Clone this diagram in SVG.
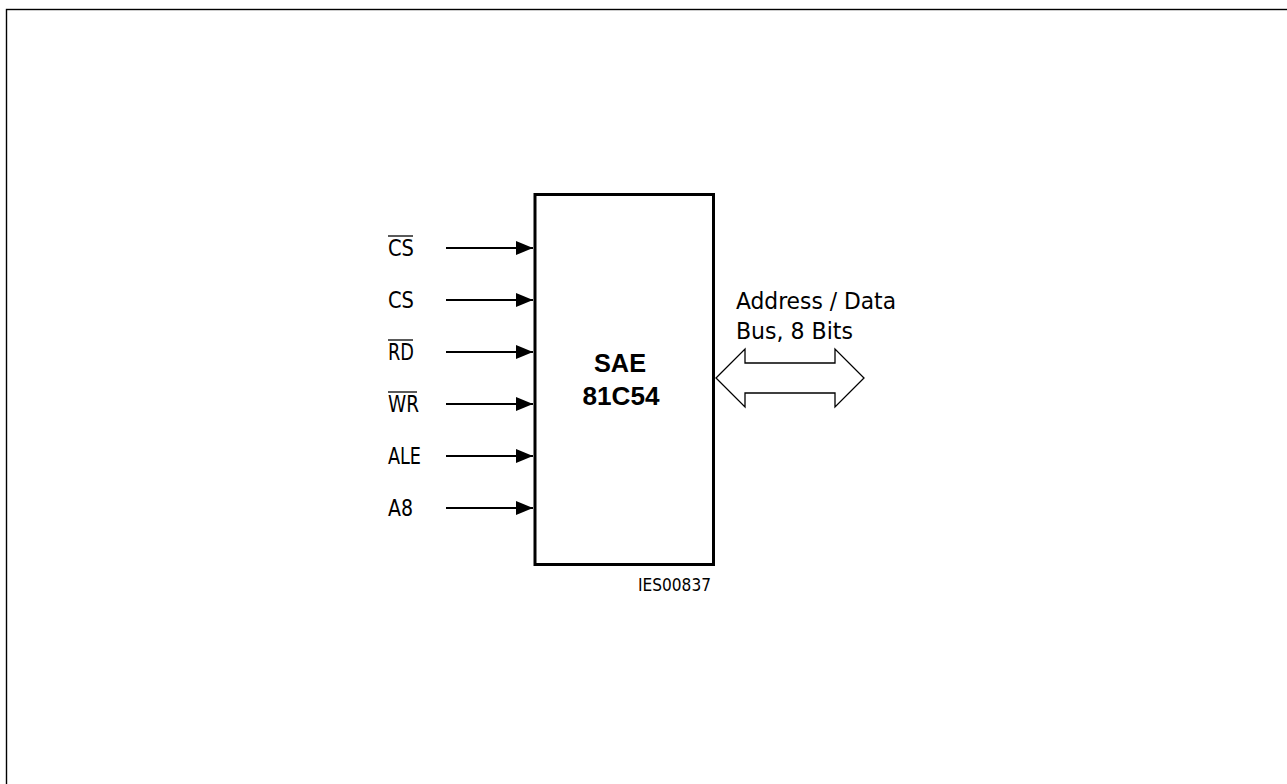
<svg xmlns="http://www.w3.org/2000/svg" width="1287" height="784" viewBox="0 0 1287 784">
<style>
.lbl{font-family:"DejaVu Sans Condensed","Liberation Sans Narrow","Liberation Sans",sans-serif;font-size:23px;fill:#000}
.title{font-family:"Liberation Sans",Arial,sans-serif;font-size:25px;font-weight:bold;fill:#000}
.wire{stroke:#000;stroke-width:1.8;fill:none}
.bar{stroke:#000;stroke-width:1.3}
</style>
<defs>
<marker id="ah" markerUnits="userSpaceOnUse" markerWidth="17" markerHeight="14" refX="17" refY="7" orient="auto">
<path d="M0,0 L17,7 L0,14 Z" fill="#000"/>
</marker>
</defs>
<rect width="1287" height="784" fill="#fff"/>
<rect x="6.5" y="9.5" width="1300" height="800" fill="none" stroke="#000" stroke-width="1.4"/>
<g id="chip">
<rect x="535" y="194.5" width="178.5" height="370" fill="#fff" stroke="#000" stroke-width="3"/>
<text class="title" x="620" y="372" text-anchor="middle" textLength="52" lengthAdjust="spacingAndGlyphs">SAE</text>
<text class="title" x="621" y="405" text-anchor="middle" textLength="77" lengthAdjust="spacingAndGlyphs">81C54</text>
</g>
<g id="labels">
<g id="cs-n"><text class="lbl" x="388" y="256" textLength="26" lengthAdjust="spacingAndGlyphs">CS</text><line class="bar" x1="388" y1="236" x2="413" y2="236"/></g>
<g id="cs"><text class="lbl" x="388" y="308" textLength="26" lengthAdjust="spacingAndGlyphs">CS</text></g>
<g id="rd-n"><text class="lbl" x="388" y="360" textLength="26" lengthAdjust="spacingAndGlyphs">RD</text><line class="bar" x1="388" y1="340" x2="413" y2="340"/></g>
<g id="wr-n"><text class="lbl" x="388" y="412" textLength="31" lengthAdjust="spacingAndGlyphs">WR</text><line class="bar" x1="388" y1="392" x2="417" y2="392"/></g>
<g id="ale"><text class="lbl" x="388" y="464" textLength="33" lengthAdjust="spacingAndGlyphs">ALE</text></g>
<g id="a8"><text class="lbl" x="388" y="516" textLength="25" lengthAdjust="spacingAndGlyphs">A8</text></g>
</g>
<g id="connectors">
<line class="wire" x1="446" y1="248" x2="533" y2="248" marker-end="url(#ah)"/>
<line class="wire" x1="446" y1="300" x2="533" y2="300" marker-end="url(#ah)"/>
<line class="wire" x1="446" y1="352" x2="533" y2="352" marker-end="url(#ah)"/>
<line class="wire" x1="446" y1="404" x2="533" y2="404" marker-end="url(#ah)"/>
<line class="wire" x1="446" y1="456" x2="533" y2="456" marker-end="url(#ah)"/>
<line class="wire" x1="446" y1="508" x2="533" y2="508" marker-end="url(#ah)"/>
</g>
<g id="bus">
<path d="M716,378 L745,349 L745,363 L835,363 L835,349 L864,378 L835,407 L835,393 L745,393 L745,407 Z" fill="#fff" stroke="#000" stroke-width="1.3" stroke-linejoin="miter"/>
<text class="lbl" x="736" y="309" textLength="160" lengthAdjust="spacingAndGlyphs">Address / Data</text>
<text class="lbl" x="736" y="339" textLength="117" lengthAdjust="spacingAndGlyphs">Bus, 8 Bits</text>
</g>
<g id="ref">
<text class="lbl" x="638" y="591" style="font-size:18px" textLength="73" lengthAdjust="spacingAndGlyphs">IES00837</text>
</g>
</svg>
